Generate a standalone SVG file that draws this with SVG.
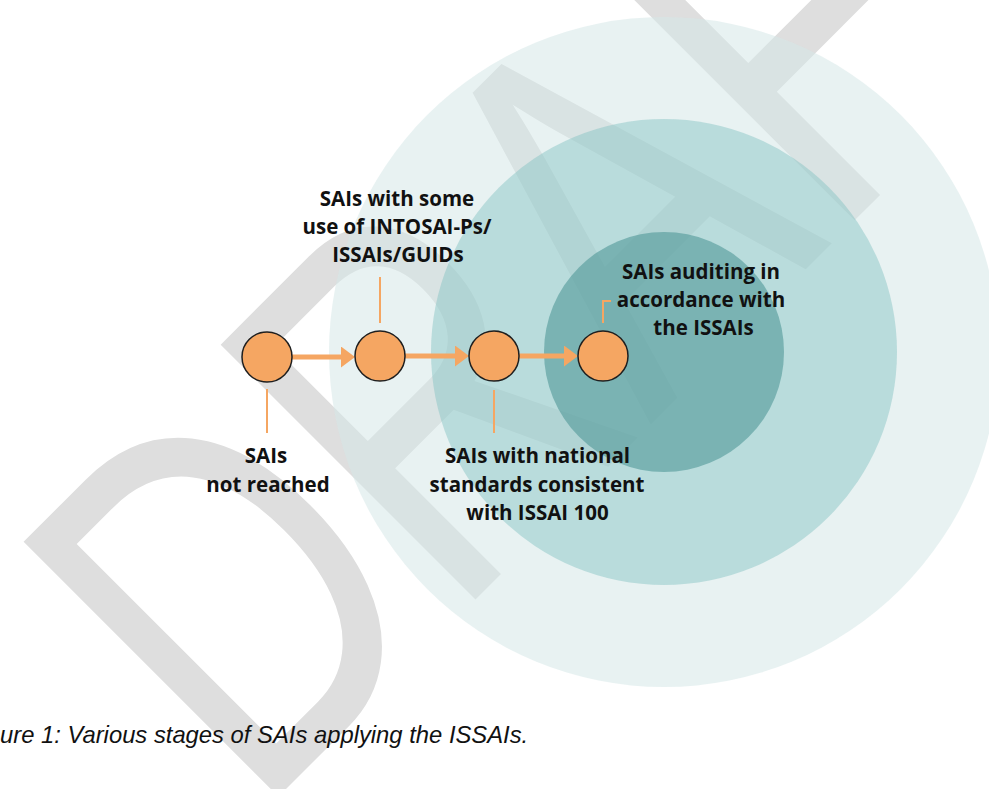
<svg xmlns="http://www.w3.org/2000/svg" width="989" height="789" viewBox="0 0 989 789">
<defs>
<style>
.wm{font-family:"Liberation Sans",Arial,sans-serif;font-size:386px;fill:#dedede}
.ring1{fill:#d5e7e7;fill-opacity:.55}
.ring2{fill:#80c1c1;fill-opacity:.45}
.ring3{fill:#509898;fill-opacity:.6}
.node{fill:#f5a662;stroke:#1f1f1f;stroke-width:1.5}
.arrow{stroke:#f5a662;stroke-width:5;fill:none}
.lead{stroke:#f5a662;stroke-width:2;fill:none}
.lbl{font-family:"Open Sans","Noto Sans",sans-serif;font-weight:700;font-size:20.5px;fill:#111111;text-anchor:middle}
.cap{font-family:"Liberation Sans",Arial,sans-serif;font-style:italic;font-size:23.8px;fill:#111}
</style>
<marker id="ah" viewBox="0 0 14 21" refX="2" refY="10.5" markerWidth="14" markerHeight="21" markerUnits="userSpaceOnUse" orient="auto"><path d="M0,0 L14,10.5 L0,21 Z" fill="#f5a662"/></marker>
</defs>
<rect width="989" height="789" fill="#ffffff"/>
<g id="watermark"><text class="wm" transform="translate(256,819) rotate(-45) scale(1,1.357)">DRAFT</text></g>
<g id="rings">
<circle class="ring1" cx="664" cy="352" r="335"/>
<circle class="ring2" cx="664" cy="352" r="233"/>
<circle class="ring3" cx="664" cy="352" r="120"/>
</g>
<g id="connectors">
<line class="arrow" x1="292" y1="357" x2="343" y2="357" marker-end="url(#ah)"/>
<line class="arrow" x1="405" y1="356" x2="457" y2="356" marker-end="url(#ah)"/>
<line class="arrow" x1="519" y1="356" x2="566" y2="356" marker-end="url(#ah)"/>
</g>
<g id="node-1">
<circle class="node" cx="267" cy="357" r="25"/>
<line class="lead" x1="267" y1="389" x2="267" y2="433"/>
<text class="lbl" x="266" y="463">SAIs</text>
<text class="lbl" x="268" y="492">not reached</text>
</g>
<g id="node-2">
<circle class="node" cx="380" cy="356" r="25"/>
<line class="lead" x1="380" y1="277" x2="380" y2="323"/>
<text class="lbl" x="397" y="205.5">SAIs with some</text>
<text class="lbl" x="397" y="233.5">use of INTOSAI-Ps/</text>
<text class="lbl" x="398" y="261.5">ISSAIs/GUIDs</text>
</g>
<g id="node-3">
<circle class="node" cx="494" cy="356" r="25"/>
<line class="lead" x1="494" y1="390" x2="494" y2="433"/>
<text class="lbl" x="537.5" y="463">SAIs with national</text>
<text class="lbl" x="537" y="491.5">standards consistent</text>
<text class="lbl" x="537.5" y="519.5">with ISSAI 100</text>
</g>
<g id="node-4">
<circle class="node" cx="603" cy="356" r="25"/>
<path class="lead" d="M603,323 V301 H611"/>
<text class="lbl" x="701" y="278.5">SAIs auditing in</text>
<text class="lbl" x="701" y="306.5">accordance with</text>
<text class="lbl" x="703.5" y="334.5">the ISSAIs</text>
</g>
<g id="caption">
<text class="cap" x="0" y="743">ure 1: Various stages of SAIs applying the ISSAIs.</text>
</g>
</svg>
